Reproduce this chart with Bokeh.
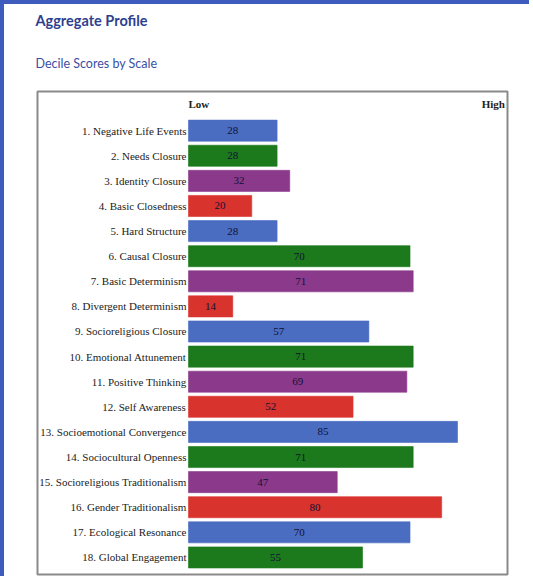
from bokeh.plotting import figure
from bokeh.models import ColumnDataSource, Range1d, Title
from bokeh.core.properties import value
from bokeh.embed import file_html
from bokeh.resources import INLINE

title_text = "Aggregate Profile"
subtitle_text = "Decile Scores by Scale"
low_text = "Low"
high_text = "High"

scales = [
    "1. Negative Life Events",
    "2. Needs Closure",
    "3. Identity Closure",
    "4. Basic Closedness",
    "5. Hard Structure",
    "6. Causal Closure",
    "7. Basic Determinism",
    "8. Divergent Determinism",
    "9. Socioreligious Closure",
    "10. Emotional Attunement",
    "11. Positive Thinking",
    "12. Self Awareness",
    "13. Socioemotional Convergence",
    "14. Sociocultural Openness",
    "15. Socioreligious Traditionalism",
    "16. Gender Traditionalism",
    "17. Ecological Resonance",
    "18. Global Engagement",
]
scores = [28, 28, 32, 20, 28, 70, 71, 14, 57, 71, 69, 52, 85, 71, 47, 80, 70, 55]

palette = ["#4a6dc2", "#1c7a1c", "#8b3a8b", "#d9332e"]

n = len(scales)
ypos = [n - i for i in range(n)]
colors = [palette[i % 4] for i in range(n)]
src = ColumnDataSource(dict(
    y=ypos, score=scores, half=[s / 2 for s in scores], name=scales,
    label=[str(s) for s in scores], color=colors, zero=[0] * n,
))

SERIF = value("'Liberation Serif'")

W, H = 529, 576
p = figure(
    width=W, height=H, output_backend="svg", toolbar_location=None,
    x_range=Range1d(-47.7, 100.8), y_range=Range1d(0.32, 19.56),
    min_border_left=33, min_border_right=26, min_border_top=0, min_border_bottom=6,
    title=None,
)
p.styles = {"border-top": "4px solid #3d5cbd", "border-left": "4px solid #3d5cbd"}
p.xaxis.visible = False
p.yaxis.visible = False
p.grid.visible = False
p.outline_line_color = "#8a8a8a"
p.outline_line_width = 2
p.background_fill_color = "white"
p.border_fill_color = "white"

p.hbar(y="y", left="zero", right="score", height=0.84, fill_color="color",
       line_color="color", line_alpha=0.6, source=src)

p.text(x="half", y="y", text="label", source=src, text_align="center",
       text_baseline="middle", text_font=SERIF,
       text_font_size="11px", text_color="#111133")

p.text(x="zero", y="y", text="name", source=src, x_offset=-2, text_align="right",
       text_baseline="middle", text_font=SERIF,
       text_font_size="11px", text_color="#222222")

top_y = n + 1.05
p.text(x=[0], y=[top_y], text=[low_text], text_align="left", text_baseline="middle",
       text_font=SERIF, text_font_style="bold",
       text_font_size="11px", text_color="#222222")
p.text(x=[100], y=[top_y], text=[high_text], text_align="right", text_baseline="middle",
       text_font=SERIF, text_font_style="bold",
       text_font_size="11px", text_color="#222222")

sub = Title(text=subtitle_text, text_font="Lato", text_font_size="12.5px",
            text_font_style="normal", text_color="#3a4fa3", align="left",
            offset=-2, standoff=41)
p.add_layout(sub, "above")
main = Title(text=title_text, text_font="Lato", text_font_size="14.5px",
             text_font_style="bold", text_color="#2e3f8e", align="left",
             offset=-2, standoff=10)
p.add_layout(main, "above")

open("out.html", "w").write(file_html(p, INLINE))
